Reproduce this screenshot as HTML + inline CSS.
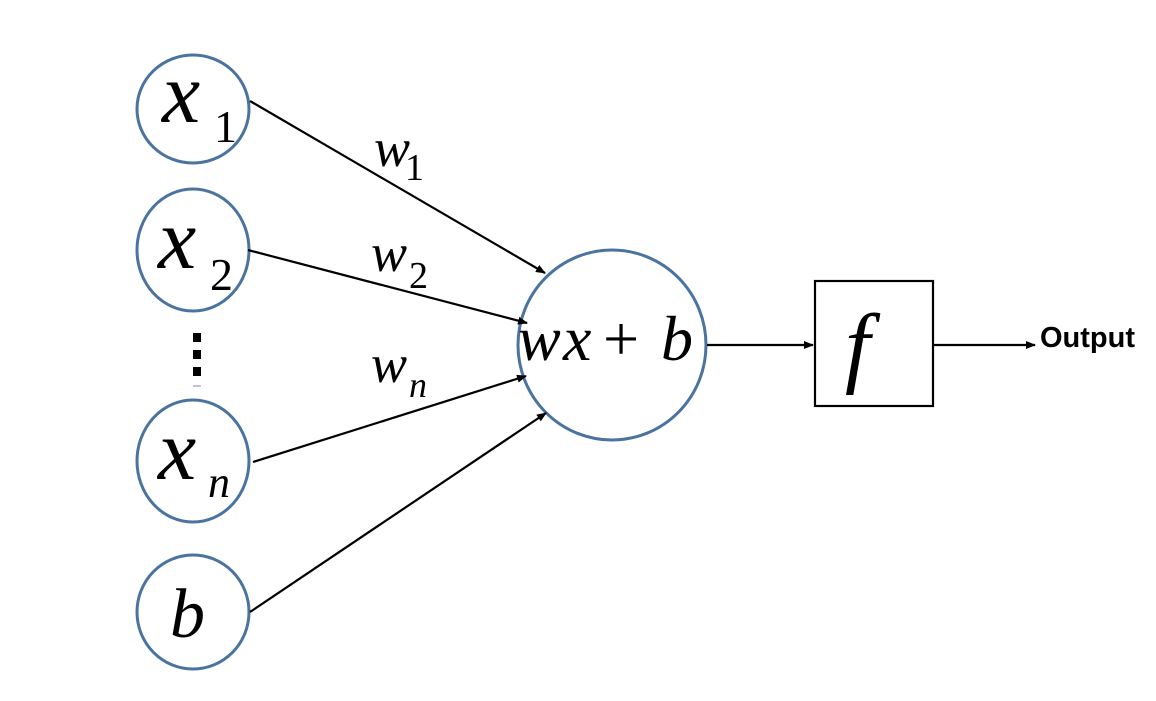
<!DOCTYPE html>
<html><head><meta charset="utf-8"><style>
html,body{margin:0;padding:0;background:#fff;}
svg{display:block;}
</style></head><body>
<svg width="1156" height="701" viewBox="0 0 1156 701">
<defs><marker id="a" markerWidth="10" markerHeight="8" refX="9" refY="4" orient="auto" markerUnits="userSpaceOnUse"><path d="M0,0 L10,4 L0,8 Z" fill="#000"/></marker></defs>
<g fill="none" stroke="#4a73a0" stroke-width="3">
<ellipse cx="193" cy="109" rx="56" ry="54"/>
<ellipse cx="193" cy="250" rx="56" ry="61"/>
<ellipse cx="193" cy="461" rx="56" ry="61"/>
<ellipse cx="193" cy="612" rx="56" ry="57"/>
<ellipse cx="612" cy="345" rx="94" ry="95"/>
</g>
<g stroke="#000" stroke-width="2.2" fill="none">
<line x1="250" y1="101" x2="545" y2="273" marker-end="url(#a)"/>
<line x1="248" y1="250" x2="527" y2="323" marker-end="url(#a)"/>
<line x1="253" y1="462" x2="526" y2="376" marker-end="url(#a)"/>
<line x1="250" y1="612" x2="546" y2="413" marker-end="url(#a)"/>
<line x1="707" y1="345" x2="813" y2="345" marker-end="url(#a)"/>
<line x1="933" y1="345" x2="1035" y2="345" marker-end="url(#a)"/>
<rect x="815" y="281" width="118" height="125"/>
</g>
<rect x="193" y="333" width="8" height="9" fill="#000"/>
<rect x="193" y="350" width="8" height="9" fill="#000"/>
<rect x="193" y="367" width="8" height="9" fill="#000"/>
<line x1="193" y1="386" x2="201" y2="386" stroke="#888" stroke-width="1"/>
<g font-family="Liberation Serif, serif" fill="#000">
<text font-style="italic" x="162" y="122" font-size="86">x</text><text x="214" y="142" font-size="46">1</text>
<text font-style="italic" x="158" y="268" font-size="86">x</text><text x="210" y="290" font-size="46">2</text>
<text font-style="italic" x="158" y="479" font-size="86">x</text><text font-style="italic" x="208" y="497" font-size="44">n</text>
<text font-style="italic" x="170" y="637" font-size="70">b</text>
<text font-style="italic" x="374" y="166" font-size="54">w</text><text x="405" y="180" font-size="38">1</text>
<text font-style="italic" x="371" y="271" font-size="54">w</text><text x="409" y="288" font-size="38">2</text>
<text font-style="italic" x="371" y="382" font-size="54">w</text><text font-style="italic" x="409" y="397" font-size="36">n</text>
<text font-style="italic" x="518" y="360" font-size="64">w</text>
<text font-style="italic" x="563" y="360" font-size="64">x</text>
<text x="603" y="360" font-size="64">+</text>
<text font-style="italic" x="661" y="360" font-size="64">b</text>
<text font-style="italic" x="845" y="376" font-size="90">f</text>
</g>
<text x="1040" y="347" font-family="Liberation Sans, sans-serif" font-weight="bold" font-size="29" fill="#000">Output</text>
</svg>
</body></html>
